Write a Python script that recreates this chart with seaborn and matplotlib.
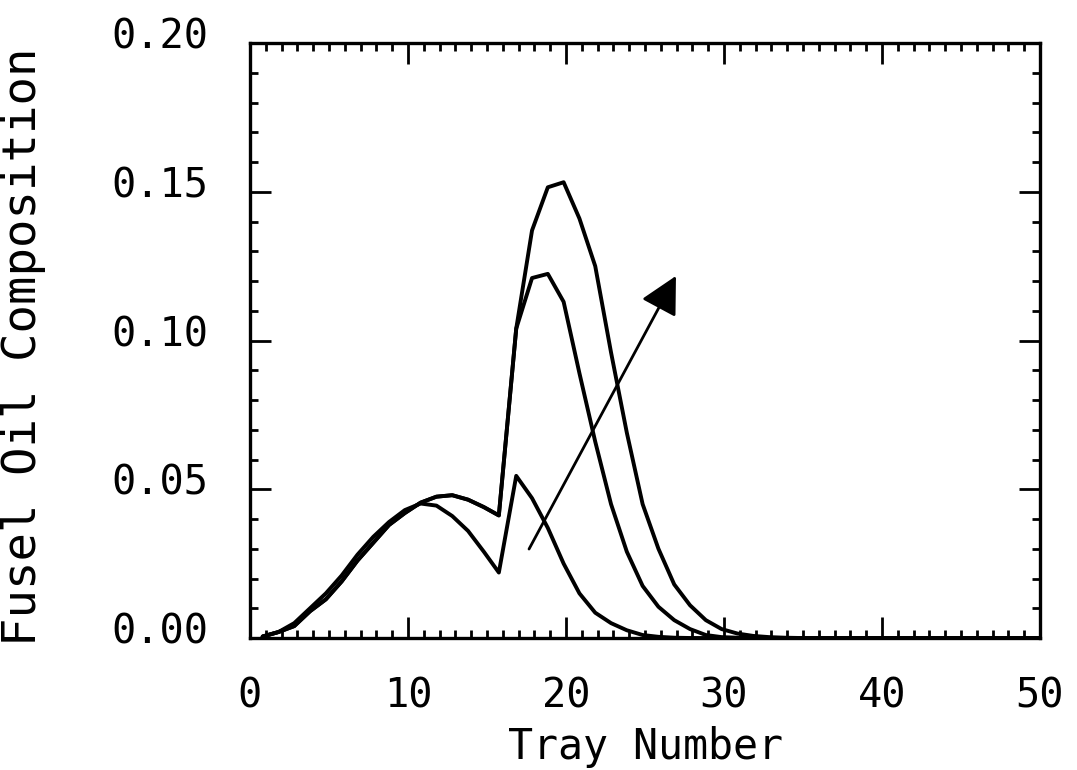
import numpy as np
import pandas as pd
import matplotlib
matplotlib.use("Agg")
import matplotlib.pyplot as plt
import matplotlib.transforms as mtransforms
from matplotlib.ticker import MultipleLocator, FormatStrFormatter
import seaborn as sns

# ---- data ----
tray = [0.8, 1.8, 2.8, 3.8, 4.8, 5.8, 6.8, 7.8, 8.8, 9.8, 10.8, 11.8, 12.8, 13.8,
        14.8, 15.75, 16.85, 17.85, 18.85, 19.85, 20.85, 21.85, 22.85, 23.85, 24.85,
        25.85, 26.85, 27.85, 28.85, 29.85, 30.85, 31.85, 32.85, 33.85, 34.85, 40.0, 50.0]

comp_low = [0.0005, 0.002, 0.005, 0.010, 0.015, 0.021, 0.028, 0.034, 0.039, 0.043,
            0.0452, 0.0445, 0.041, 0.036, 0.029, 0.022, 0.0545, 0.047, 0.037, 0.025,
            0.015, 0.0085, 0.005, 0.0026, 0.001, 0.0004, 0.0001, 0.0, 0.0, 0.0,
            0.0, 0.0, 0.0, 0.0, 0.0, 0.0, 0.0]

comp_mid = [0.0005, 0.002, 0.004, 0.009, 0.013, 0.019, 0.026, 0.032, 0.038, 0.042,
            0.0455, 0.0475, 0.048, 0.0465, 0.044, 0.0412, 0.104, 0.121, 0.1224, 0.113,
            0.089, 0.066, 0.045, 0.029, 0.0175, 0.0105, 0.006, 0.003, 0.001, 0.0003,
            0.0001, 0.0, 0.0, 0.0, 0.0, 0.0, 0.0]

comp_high = [0.0005, 0.002, 0.004, 0.009, 0.013, 0.019, 0.026, 0.032, 0.038, 0.042,
             0.0455, 0.0475, 0.048, 0.0465, 0.044, 0.0412, 0.104, 0.137, 0.1515, 0.1532,
             0.141, 0.125, 0.096, 0.069, 0.045, 0.030, 0.018, 0.011, 0.006, 0.003,
             0.0015, 0.0007, 0.0003, 0.0001, 0.0, 0.0, 0.0]

arrow_start = (17.66, 0.0299)
arrow_end = (26.96, 0.1217)

x_ticks = [0, 10, 20, 30, 40, 50]
y_ticks = [0.00, 0.05, 0.10, 0.15, 0.20]

df = pd.concat([
    pd.DataFrame({"tray": tray, "comp": comp_low, "case": "low"}),
    pd.DataFrame({"tray": tray, "comp": comp_mid, "case": "mid"}),
    pd.DataFrame({"tray": tray, "comp": comp_high, "case": "high"}),
])

sns.set_style("ticks")
plt.rcParams["font.family"] = ["DejaVu Sans Mono", "DejaVu Sans"]
plt.rcParams["text.color"] = "black"
plt.rcParams["axes.labelcolor"] = "black"

fig = plt.figure(figsize=(10.77, 7.70), dpi=100)
ax = fig.add_axes([250 / 1077, 1 - 638 / 770, 790 / 1077, 595 / 770])

sns.lineplot(data=df, x="tray", y="comp", hue="case", units="case",
             estimator=None, sort=False,
             palette={"low": "black", "mid": "black", "high": "black"},
             linewidth=2.8, legend=False, ax=ax)

ax.annotate("", xy=arrow_end, xytext=arrow_start,
            arrowprops=dict(arrowstyle="-|>,head_length=23,head_width=12",
                            mutation_scale=1, color="black", lw=2.0,
                            shrinkA=0, shrinkB=0))

ax.set_xlim(0, 50)
ax.set_ylim(0, 0.20)
ax.set_xticks(x_ticks)
ax.set_yticks(y_ticks)
ax.xaxis.set_minor_locator(MultipleLocator(1))
ax.yaxis.set_minor_locator(MultipleLocator(0.01))
ax.yaxis.set_major_formatter(FormatStrFormatter("%.2f"))

for s in ax.spines.values():
    s.set_linewidth(2.4)
    s.set_color("black")

ax.tick_params(which="major", direction="in", length=15, width=2.0,
               top=True, right=True, labelsize=29, colors="black")
ax.tick_params(which="minor", direction="in", length=6, width=2.0,
               top=True, right=True, colors="black")
ax.tick_params(axis="x", which="major", pad=28)
ax.tick_params(axis="y", which="major", pad=30)

offset = mtransforms.ScaledTranslation(0, 10 / 100, fig.dpi_scale_trans)
for lab in ax.get_yticklabels():
    lab.set_transform(lab.get_transform() + offset)

ax.set_xlabel("Tray Number", fontsize=30, color="black")
ax.set_ylabel("Fusel Oil Composition", fontsize=34, color="black")
ax.xaxis.set_label_coords(0.5, -0.148)
ax.yaxis.set_label_coords(-0.258, 0.49)

fig.savefig("out.png", dpi=100, facecolor="white")
